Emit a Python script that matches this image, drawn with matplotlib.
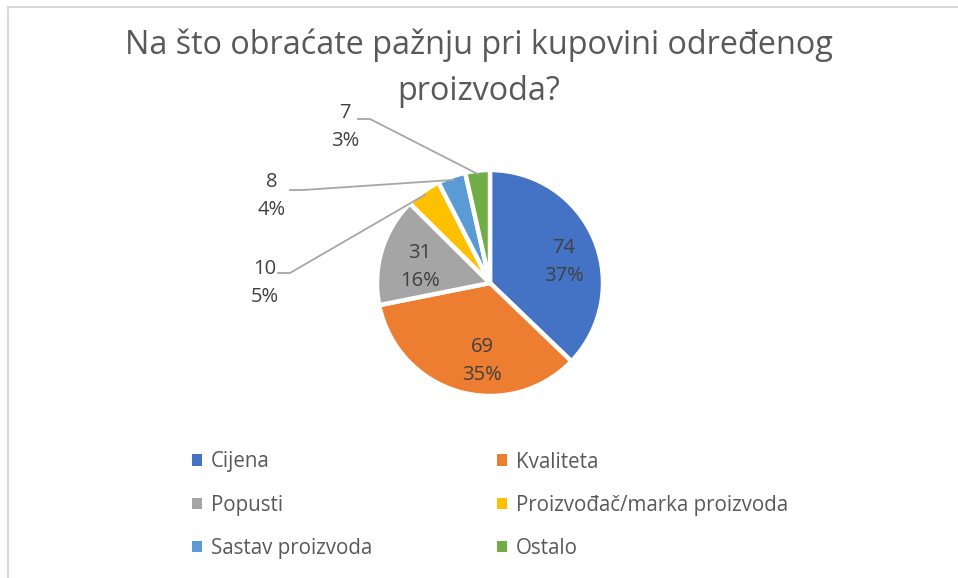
import numpy as np
import matplotlib
matplotlib.use('Agg')
import matplotlib.pyplot as plt
from matplotlib.lines import Line2D
from matplotlib.patches import Patch

plt.rcParams['font.family'] = ['Open Sans', 'DejaVu Sans']

title_lines = ['Na što obraćate pažnju pri kupovini određenog', 'proizvoda?']
categories = ['Cijena', 'Kvaliteta', 'Popusti', 'Proizvođač/marka proizvoda',
              'Sastav proizvoda', 'Ostalo']
counts = [74, 69, 31, 10, 8, 7]
percent_labels = ['37%', '35%', '16%', '5%', '4%', '3%']
colors = ['#4472C4', '#ED7D31', '#A5A5A5', '#FFC000', '#5B9BD5', '#70AD47']

W, H = 958, 578
cx, cy, R = 490, 283, 113  # pie centre and radius in pixels


def px(x, y):
    """pixel position (from top-left) -> data units of the pie axes"""
    return (x - cx) / R, (cy - y) / R


fig = plt.figure(figsize=(W / 100, H / 100), dpi=100)
ax = fig.add_axes([0, 0, 1, 1])

wedges, _ = ax.pie(counts, colors=colors, startangle=90, counterclock=False,
                   radius=1, wedgeprops=dict(edgecolor='white', linewidth=3.2))
# pie() resets the limits, so set them afterwards
ax.set_xlim(-cx / R, (W - cx) / R)
ax.set_ylim(-(H - cy) / R, cy / R)
ax.axis('off')

txt_col = '#404040'
lab_fs = 14.5
# labels inside the big slices
inside = {0: (564, 262), 1: (482, 361), 2: (420, 267)}
for i, (x, y) in inside.items():
    ax.text(*px(x, y), '%d\n%s' % (counts[i], percent_labels[i]),
            ha='center', va='center', fontsize=lab_fs, color=txt_col,
            linespacing=1.5)

# labels outside with leader lines
outside = {3: ((265, 283), (278, 273), (290, 273)),
           4: ((272, 196), (290, 190), (303, 190)),
           5: ((345, 127), (358, 119), (370, 119))}
for i, (lab, p0, p1) in outside.items():
    w = wedges[i]
    th = np.deg2rad((w.theta1 + w.theta2) / 2)
    end = (0.97 * np.cos(th), 0.97 * np.sin(th))
    xs = [px(*p0)[0], px(*p1)[0], end[0]]
    ys = [px(*p0)[1], px(*p1)[1], end[1]]
    ax.plot(xs, ys, color='#A6A6A6', lw=1.3)
    ax.text(*px(*lab), '%d\n%s' % (counts[i], percent_labels[i]),
            ha='center', va='center', fontsize=lab_fs, color=txt_col,
            linespacing=1.5)

# title, one text per line
for line, y in zip(title_lines, (45, 92)):
    fig.text(0.5, 1 - y / H, line, ha='center', va='center', fontsize=23.3,
             color='#595959')

# legend: two columns, filled row by row
for col, x0 in ((0, 173), (1, 478)):
    idx = list(range(col, len(categories), 2))
    handles = [Patch(facecolor=colors[k], edgecolor='none') for k in idx]
    fig.legend(handles, [categories[k] for k in idx], loc='upper left',
               bbox_to_anchor=(x0 / W, 1 - 433 / H), frameon=False,
               fontsize=14.8, labelcolor='#595959', handlelength=0.5,
               handleheight=0.5, handletextpad=0.45, labelspacing=1.08)

# chart border (top and left only visible)
fig.add_artist(Line2D([8 / W, 1], [1 - 7 / H, 1 - 7 / H], color='#D9D9D9',
                      lw=1.5, transform=fig.transFigure))
fig.add_artist(Line2D([8 / W, 8 / W], [0, 1 - 7 / H], color='#D9D9D9',
                      lw=1.5, transform=fig.transFigure))

fig.savefig('out.png', dpi=100)
